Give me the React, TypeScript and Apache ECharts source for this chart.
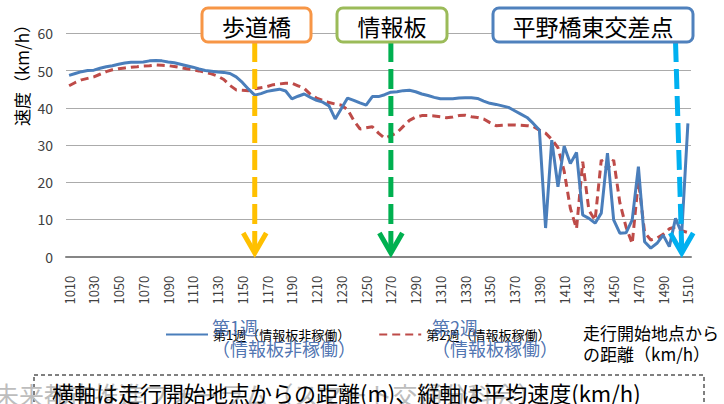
import React, { useEffect, useRef } from "react";
import * as echarts from "echarts";

const FONT = '"Noto Sans CJK JP", "Noto Sans", sans-serif';

const distances = [
  1010, 1015, 1020, 1025, 1030, 1035, 1040, 1045, 1050, 1055,
  1060, 1065, 1070, 1075, 1080, 1085, 1090, 1095, 1100, 1105,
  1110, 1115, 1120, 1125, 1130, 1135, 1140, 1145, 1150, 1155,
  1160, 1165, 1170, 1175, 1180, 1185, 1190, 1195, 1200, 1205,
  1210, 1215, 1220, 1225, 1230, 1235, 1240, 1245, 1250, 1255,
  1260, 1265, 1270, 1275, 1280, 1285, 1290, 1295, 1300, 1305,
  1310, 1315, 1320, 1325, 1330, 1335, 1340, 1345, 1350, 1355,
  1360, 1365, 1370, 1375, 1380, 1385, 1390, 1395, 1400, 1405,
  1410, 1415, 1420, 1425, 1430, 1435, 1440, 1445, 1450, 1455,
  1460, 1465, 1470, 1475, 1480, 1485, 1490, 1495, 1500, 1505,
  1510,
];

const week1 = [
  48.7, 49.2, 49.7, 50.0, 50.1, 50.6, 51.0, 51.3, 51.7, 52.0,
  52.2, 52.2, 52.3, 52.6, 52.7, 52.6, 52.3, 52.1, 51.7, 51.3,
  50.9, 50.4, 50.0, 49.8, 49.6, 49.5, 49.2, 48.3, 46.8, 45.0,
  43.4, 43.8, 44.4, 44.7, 45.0, 44.5, 42.4, 43.1, 43.7, 42.8,
  42.0, 41.5, 40.5, 37.0, 39.8, 42.6, 42.0, 41.3, 40.7, 43.0,
  43.0, 43.5, 44.2, 44.3, 44.6, 44.7, 44.3, 43.7, 43.3, 42.8,
  42.4, 42.4, 42.4, 42.6, 42.7, 42.7, 42.5, 41.8, 41.2, 40.9,
  40.5, 40.1, 39.2, 38.3, 37.4, 35.8, 34.0, 7.7, 31.3, 18.8,
  29.7, 25.0, 28.0, 11.2, 10.3, 9.0, 11.7, 27.8, 9.9, 6.3,
  6.4, 9.9, 24.2, 4.0, 2.3, 3.6, 5.8, 2.7, 10.3, 6.3,
  35.8,
];

const week2 = [
  45.9, 46.8, 47.5, 47.9, 48.3, 49.0, 49.7, 50.2, 50.5, 50.7,
  50.9, 51.0, 51.2, 51.3, 51.5, 51.4, 51.3, 51.1, 50.8, 50.5,
  50.2, 49.9, 49.5, 49.1, 48.5, 47.6, 46.0, 44.8, 44.7, 44.6,
  45.1, 45.4, 45.7, 46.2, 46.4, 46.6, 46.6, 45.9, 45.2, 43.6,
  42.6, 42.0, 41.4, 41.0, 40.7, 39.5, 36.6, 34.3, 34.6, 34.9,
  33.2, 31.8, 32.5, 33.3, 35.0, 36.6, 37.5, 37.9, 37.9, 37.8,
  37.6, 37.3, 37.5, 37.9, 38.0, 37.6, 37.4, 37.0, 36.0, 35.2,
  35.3, 35.4, 35.4, 35.3, 35.2, 35.0, 34.0, 33.2, 31.5, 29.3,
  23.0, 13.0, 7.5, 25.5, 12.5, 9.8, 26.0, 23.5, 26.0, 14.5,
  8.0, 3.5, 20.5, 6.5, 4.5, 5.0, 6.0, 7.5, 8.0, 7.0,
  6.5,
];

const seriesNames = ["第1週（情報板非稼働）", "第2週（情報板稼働）"];

// annotation markers: label, distance at top / at arrow tip
const markerLabels = ["歩道橋", "情報板", "平野橋東交差点"];
const markerTop = [1160, 1270, 1500];
const markerTip = [1160, 1270, 1505];
const markerLineColors = ["#FFC000", "#00B050", "#00B0F0"];
const markerBorderColors = ["#F79646", "#9BBB59", "#4F81BD"];
const markerBoxes = [
  [202, 8, 109, 34],
  [337, 8, 110, 34],
  [493, 8, 200, 34],
];

export default function App() {
  const ref = useRef<HTMLDivElement>(null);

  useEffect(() => {
    if (!ref.current) return;
    const chart = echarts.init(ref.current, undefined, { renderer: "svg" });
    const option: any = {
      animation: false,
      backgroundColor: "#ffffff",
      textStyle: { fontFamily: FONT },
      grid: {
        left: 66,
        right: 33,
        top: 33.3,
        bottom: 147.3,
        containLabel: false,
        outerBoundsMode: "none",
      },
      legend: {
        left: 160,
        top: 323,
        itemWidth: 42,
        itemHeight: 14,
        itemGap: 28,
        itemStyle: { opacity: 0 },
        textStyle: { fontSize: 13, color: "#000", fontFamily: FONT },
        data: seriesNames,
      },
      xAxis: {
        type: "category",
        data: distances.map(String),
        boundaryGap: true,
        axisLine: { show: true, lineStyle: { color: "#868686", width: 2 } },
        axisTick: { show: false },
        axisLabel: {
          interval: 3,
          rotate: 90,
          margin: 19,
          fontSize: 13,
          color: "#404040",
          fontFamily: FONT,
        },
        splitLine: { show: false },
      },
      yAxis: {
        type: "value",
        min: 0,
        max: 60,
        interval: 10,
        axisLine: { show: false },
        axisTick: { show: false },
        axisLabel: { fontSize: 14, color: "#404040", margin: 13, fontFamily: FONT },
        splitLine: { lineStyle: { color: "#ABABAB", width: 1 } },
      },
      series: [
        {
          name: seriesNames[0],
          type: "line",
          data: week1,
          symbol: "none",
          showSymbol: false,
          lineStyle: { color: "#4A7EBB", width: 3 },
          itemStyle: { color: "#4A7EBB" },
          z: 3,
        },
        {
          name: seriesNames[1],
          type: "line",
          data: week2,
          symbol: "none",
          showSymbol: false,
          lineStyle: { color: "#BE4B48", width: 3, type: [8, 5] },
          itemStyle: { color: "#BE4B48" },
          z: 2,
        },
      ],
    };
    chart.setOption(option);

    const idx = (d: number) => distances.indexOf(d);
    const graphics: any[] = [];
    markerLabels.forEach((label, k) => {
      const [bx, by, bw, bh] = markerBoxes[k];
      const top = chart.convertToPixel({ gridIndex: 0 } as any, [idx(markerTop[k]), 60]) as number[];
      const tip = chart.convertToPixel({ gridIndex: 0 } as any, [idx(markerTip[k]), 1]) as number[];
      const topY = by + bh;
      graphics.push({
        type: "line",
        z: 10,
        shape: { x1: top[0], y1: topY, x2: tip[0], y2: tip[1] - 4 },
        style: { stroke: markerLineColors[k], lineWidth: 5, lineDash: [20, 7] },
      });
      graphics.push({
        type: "polyline",
        z: 10,
        shape: {
          points: [
            [tip[0] - 11.5, tip[1] - 20],
            [tip[0], tip[1]],
            [tip[0] + 11.5, tip[1] - 20],
          ],
        },
        style: { stroke: markerLineColors[k], lineWidth: 5, fill: "none", lineJoin: "miter" },
      });
      graphics.push({
        type: "rect",
        z: 20,
        shape: { x: bx, y: by, width: bw, height: bh, r: 6 },
        style: { fill: "#ffffff", stroke: markerBorderColors[k], lineWidth: 3 },
      });
      graphics.push({
        type: "text",
        z: 21,
        x: bx + bw / 2,
        y: by + bh / 2 + 1,
        style: {
          text: label,
          align: "center",
          verticalAlign: "middle",
          fontSize: 23,
          fontFamily: FONT,
          fill: "#000",
        },
      });
    });

    // y axis name
    graphics.push({
      type: "text",
      x: 21,
      y: 71,
      rotation: Math.PI / 2,
      style: {
        text: "速度（km/h）",
        align: "center",
        verticalAlign: "middle",
        fontSize: 17,
        fontFamily: FONT,
        fill: "#000",
      },
    });

    // overlay week labels
    graphics.push({
      type: "text",
      x: 212,
      y: 316,
      z: 30,
      style: {
        text: "第1週\n（情報板非稼働）",
        fontSize: 18,
        lineHeight: 21,
        fontFamily: FONT,
        fill: "#3B64A8",
        opacity: 0.9,
      },
    });
    graphics.push({
      type: "text",
      x: 432,
      y: 316,
      z: 30,
      style: {
        text: "第2週\n（情報板稼働）",
        fontSize: 18,
        lineHeight: 21,
        fontFamily: FONT,
        fill: "#3B64A8",
        opacity: 0.9,
      },
    });
    graphics.push({
      type: "text",
      x: 583,
      y: 322,
      style: {
        text: "走行開始地点から\nの距離（km/h）",
        fontSize: 17,
        lineHeight: 21,
        fontFamily: FONT,
        fill: "#000",
      },
    });

    // bottom caption box
    graphics.push({
      type: "rect",
      shape: { x: 34, y: 375, width: 670, height: 40 },
      style: { fill: "none", stroke: "#000", lineWidth: 1, lineDash: [4, 3] },
    });
    graphics.push({
      type: "text",
      x: -6,
      y: 394,
      style: {
        text: "未来都市推進フォーラム（スマート交通分科会）",
        verticalAlign: "middle",
        fontSize: 25,
        fontFamily: FONT,
        fill: "#BDBDBD",
      },
    });
    graphics.push({
      type: "text",
      x: 52,
      y: 392,
      z: 5,
      style: {
        text: "横軸は走行開始地点からの距離(m)、縦軸は平均速度(km/h)",
        verticalAlign: "middle",
        fontSize: 22,
        fontFamily: FONT,
        fill: "#000",
      },
    });

    chart.setOption({ graphic: graphics });

    return () => chart.dispose();
  }, []);

  return (
    <div
      ref={ref}
      style={{ position: "absolute", left: 0, top: 0, width: 724, height: 404 }}
    />
  );
}
